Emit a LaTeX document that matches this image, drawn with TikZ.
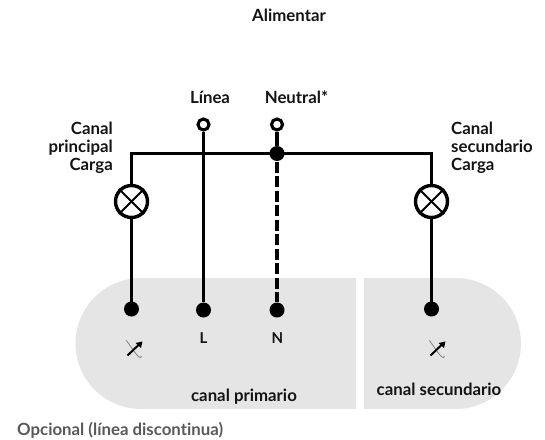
\documentclass[tikz,border=0pt]{standalone}
\usepackage{fontspec}
\setmainfont[Ligatures=NoCommon]{Lato}
\tikzset{
  x=1pt,y=-1pt,
  wire/.style={line width=3.6pt,black},
  dashwire/.style={line width=3.6pt,black,dash pattern=on 11pt off 3.5pt,dash phase=13.8pt},
  blob/.style={fill=black!10,draw=none},
  lamp/.style={circle,draw,line width=3.4pt,fill=white,minimum size=32pt,inner sep=0pt},
  terminal/.style={circle,draw,line width=3.1pt,fill=white,minimum size=11pt,inner sep=0pt},
  dot/.style={circle,fill=black,minimum size=15pt,inner sep=0pt},
  lbl/.style={font=\fontsize{16.8}{18}\selectfont\bfseries,text=black!92,inner sep=0pt},
  pinlbl/.style={lbl,font=\fontsize{15}{18}\selectfont\bfseries},
  xmark/.style={line width=2pt,black},
  swoosh/.style={line width=.9pt,black!45},
  swarrow/.style={line width=2pt,black}
}
\newcommand{\switchicon}[1]{%
  \draw[swoosh] (#1)+(-8.5,-8) .. controls +(1,-1) and +(-1,8) .. +(7,7.5);
  \draw[swarrow] (#1)+(-7,7) -- +(4,-3.5);
  \fill (#1)+(8,-7) -- +(6.5,-0.5) -- +(1,-5.5) -- cycle;
}
\begin{document}
\begin{tikzpicture}
\useasboundingbox (0,0) rectangle (545,439);
% channel zones
\fill[blob] (356,278) -- (356,409) -- (141,409) arc[start angle=90,end angle=270,radius=65.5,y=1pt] -- cycle;
\fill[blob] (364,278) -- (364,409) -- (455.5,409) arc[start angle=90,end angle=-90,radius=65.5,y=1pt] -- cycle;
% named points
\node[terminal] (tL) at (203.5,124.5) {};
\node[terminal] (tN) at (277,124.5) {};
\coordinate (cL) at (131.5,153.5);
\coordinate (cR) at (431.5,153.5);
\node[dot] (j) at (277,153.5) {};
\node[dot] (pA) at (131.5,309) {};
\node[dot] (pL) at (203.5,310) {};
\node[dot] (pN) at (277,310) {};
\node[dot] (pB) at (431.5,309) {};
% wires
\draw[wire,line join=miter] (pA.center) -- (cL) -- (cR) -- (pB.center);
\draw[wire] (tL) -- (pL);
\draw[wire] (tN) -- (j);
\draw[dashwire] (j) -- (pN);
% lamps
\node[lamp] (la) at (131.5,201.5) {};
\node[lamp] (lb) at (431.5,201.5) {};
\foreach \n in {la,lb}{
  \draw[xmark] (\n.45) -- (\n.225);
  \draw[xmark] (\n.135) -- (\n.315);
}
% icons
\switchicon{134.5,348.5}
\switchicon{437.5,348.5}
% labels
\node[lbl] (t0) at (289,15.5) {Alimentar};
\node[lbl] (t1) at (210,97) {Línea};
\node[lbl] (t2) at (296.5,97) {Neutral*};
\node[lbl,align=right,anchor=east] (t3) at (113,147.5) {Canal\\principal\\Carga};
\node[lbl,align=left,anchor=west] (t4) at (451,147.5) {Canal\\secundario\\Carga};
\node[pinlbl] (t5) at (203.5,338) {L};
\node[pinlbl] (t6) at (277.5,338) {N};
\node[lbl] (t7) at (244,396.5) {canal primario};
\node[lbl] (t8) at (439,389.5) {canal secundario};
\node[lbl,text=black!65,anchor=west] (t9) at (17,430) {Opcional (línea discontinua)};
\end{tikzpicture}
\end{document}
